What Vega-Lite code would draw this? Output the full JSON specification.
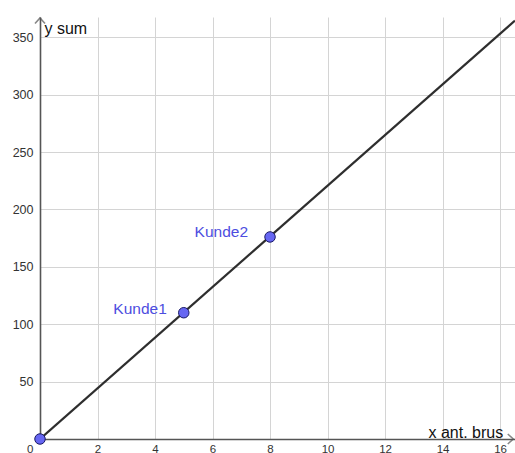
{
  "$schema": "https://vega.github.io/schema/vega-lite/v6.json",
  "width": 475,
  "height": 422,
  "autosize": {"type": "none"},
  "padding": {"left": 40, "top": 17, "right": 0, "bottom": 14},
  "background": "white",
  "config": {
    "view": {"stroke": null},
    "font": "Liberation Sans"
  },
  "datasets": {
    "line": [{"x": 0, "y": 0}, {"x": 16.52, "y": 364.5}],
    "points": [
      {"x": 0, "y": 0, "label": ""},
      {"x": 5, "y": 110, "label": "Kunde1"},
      {"x": 8, "y": 176, "label": "Kunde2"}
    ],
    "arrows": [
      {"x": 0, "y": 366.8, "axis": "y"},
      {"x": 16.46, "y": 0, "axis": "x"}
    ]
  },
  "layer": [
    {
      "data": {"name": "line"},
      "mark": {"type": "line", "color": "#2e2e2e", "strokeWidth": 2.2, "clip": true},
      "encoding": {
        "x": {
          "field": "x", "type": "quantitative",
          "scale": {"domain": [0, 16.52], "nice": false, "zero": false},
          "axis": {
            "values": [0, 2, 4, 6, 8, 10, 12, 14, 16],
            "grid": true, "gridColor": "#d4d4d4", "gridWidth": 1,
            "ticks": false,
            "domainColor": "#555555", "domainWidth": 1.6,
            "labelFontSize": 11.5, "labelColor": "#333333", "labelPadding": 4,
            "labelBaseline": "top",
            "labelAlign": {"condition": {"test": "datum.value == 0", "value": "right"}, "value": "center"},
            "labelOffset": {"condition": {"test": "datum.value == 0", "value": -7}, "value": 0},
            "labelFlush": false,
            "title": "x ant. brus",
            "titleFontSize": 16, "titleFontWeight": "normal", "titleColor": "#111111",
            "titleX": 388, "titleY": -7, "titleAlign": "left", "titleBaseline": "middle", "titleAnchor": null
          }
        },
        "y": {
          "field": "y", "type": "quantitative",
          "scale": {"domain": [0, 367.6], "nice": false, "zero": false},
          "axis": {
            "values": [50, 100, 150, 200, 250, 300, 350],
            "grid": true, "gridColor": "#d4d4d4", "gridWidth": 1,
            "ticks": false,
            "domainColor": "#555555", "domainWidth": 1.6,
            "labelFontSize": 12.5, "labelColor": "#333333", "labelPadding": 7,
            "labelFlush": false,
            "title": "y sum",
            "titleFontSize": 16, "titleFontWeight": "normal", "titleColor": "#111111",
            "titleAngle": 0, "titleX": 4, "titleY": 11, "titleAlign": "left", "titleBaseline": "middle", "titleAnchor": null
          }
        }
      }
    },
    {
      "data": {"name": "arrows"},
      "transform": [{"filter": "datum.axis == 'y'"}],
      "mark": {"type": "point", "shape": "M-1,1.1L0,0L1,1.1", "filled": false, "stroke": "#555555", "strokeWidth": 1.6, "size": 100, "clip": false},
      "encoding": {
        "x": {"field": "x", "type": "quantitative"},
        "y": {"field": "y", "type": "quantitative"}
      }
    },
    {
      "data": {"name": "arrows"},
      "transform": [{"filter": "datum.axis == 'x'"}],
      "mark": {"type": "point", "shape": "M-1.1,-1L0,0L-1.1,1", "filled": false, "stroke": "#555555", "strokeWidth": 1.6, "size": 100, "clip": false},
      "encoding": {
        "x": {"field": "x", "type": "quantitative"},
        "y": {"field": "y", "type": "quantitative"}
      }
    },
    {
      "data": {"name": "points"},
      "mark": {"type": "point", "filled": true, "fill": "#6666f2", "stroke": "#1a1a66", "strokeWidth": 1, "size": 110, "opacity": 1, "clip": false},
      "encoding": {
        "x": {"field": "x", "type": "quantitative"},
        "y": {"field": "y", "type": "quantitative"}
      }
    },
    {
      "data": {"name": "points"},
      "transform": [{"filter": "datum.label == 'Kunde1'"}],
      "mark": {"type": "text", "align": "right", "baseline": "middle", "dx": -17, "dy": -4, "fontSize": 15.5, "color": "#4d4de0"},
      "encoding": {
        "x": {"field": "x", "type": "quantitative"},
        "y": {"field": "y", "type": "quantitative"},
        "text": {"field": "label"}
      }
    },
    {
      "data": {"name": "points"},
      "transform": [{"filter": "datum.label == 'Kunde2'"}],
      "mark": {"type": "text", "align": "right", "baseline": "middle", "dx": -22, "dy": -5, "fontSize": 15.5, "color": "#4d4de0"},
      "encoding": {
        "x": {"field": "x", "type": "quantitative"},
        "y": {"field": "y", "type": "quantitative"},
        "text": {"field": "label"}
      }
    }
  ]
}
